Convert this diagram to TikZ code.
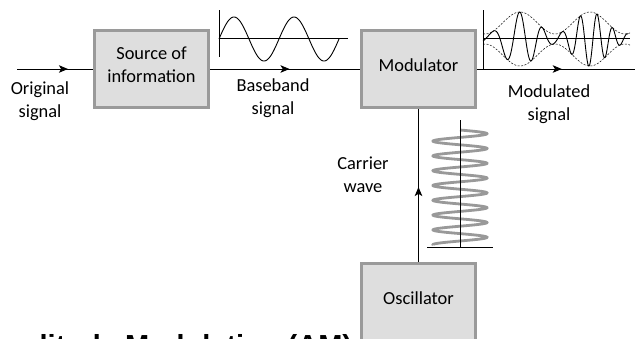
\documentclass[tikz,border=0pt]{standalone}
\usepackage{fontspec}
\setmainfont{Carlito}
\newfontfamily\titlefont{Liberation Sans}
\usetikzlibrary{arrows.meta,decorations.markings}
\definecolor{boxgray}{HTML}{9A9A9A}
\definecolor{boxfill}{HTML}{DEDEDE}
\definecolor{springgray}{HTML}{999999}
\newcommand\lblfont{\fontsize{18.4}{23}\selectfont}
\begin{document}
\begin{tikzpicture}[x=1pt,y=-1pt,
  block/.style={draw=boxgray, line width=3pt, fill=boxfill, minimum width=114pt,
    minimum height=77pt, inner sep=0pt, align=center, font=\lblfont, text depth=8pt},
  lbl/.style={align=center, font=\lblfont, inner sep=0pt},
  wire/.style={line width=0.9pt},
  axis/.style={line width=0.8pt},
  midarrow/.style={postaction={decorate}, decoration={markings,
    mark=at position #1 with {\arrow{Stealth[length=9pt,width=7.5pt,inset=2.2pt]}}}},
  envelope/.style={line width=0.5pt, dash pattern=on 2pt off 1.5pt},
  spring/.style={draw=springgray, line width=2.8pt}]
\useasboundingbox (0,0) rectangle (635,338);
\clip (0,0) rectangle (635,338);
\fill[white] (0,0) rectangle (635,338);

% blocks
\node[block] (src) at (151.5,69) {Source of\\information};
\node[block] (mod) at (418.5,69) {Modulator};
\node[block] (osc) at (418.5,302) {Oscillator};

% free ends
\coordinate (in) at (17,69);
\coordinate (out) at (640,69);

% connectors
\draw[wire, midarrow=0.67] (in) -- (src.west);
\draw[wire, midarrow=0.53] (src.east) -- (mod.west);
\draw[wire, midarrow=0.52] (mod.east) -- (out);
\draw[wire, midarrow=0.49] (osc.north) -- (mod.south);

% labels
\node[lbl] (orig) at (40,101.5) {Original\\signal};
\node[lbl] (base) at (273,98) {Baseband\\signal};
\node[lbl] (modl) at (549,104.5) {Modulated\\signal};
\node[lbl] (carr) at (363,175) {Carrier\\wave};

% baseband waveform
\draw[axis] (219,10) -- (219,57);
\draw[axis] (219,38) -- (348,38);
\draw[wire] plot[domain=219:339, samples=150, variable=\x] (\x,{39-22*sin(6*(\x-219))});

% modulated waveform
\draw[axis] (483,10) -- (483,69);
\draw[axis] (483,38.5) -- (630,38.5);
\draw[envelope] plot[domain=0:147, samples=150, variable=\u]
  ({483+\u},{39-(16-11*cos((\u-2)/70*360))});
\draw[envelope] plot[domain=0:147, samples=150, variable=\u]
  ({483+\u},{39+(16-11*cos((\u-2)/70*360))});
\draw[wire] plot[domain=0:145, samples=400, variable=\u]
  ({483+\u},{39-(16-11*cos((\u-2)/70*360))*sin(360*(0.031*\u+0.00013*\u*\u-0.07))});

% carrier spring
\draw[spring] plot[domain=130:245, samples=400, variable=\t]
  ({460+27*sin((\t-130)/14.8*360)},\t);
\draw[axis] (460,120) -- (460,247);
\draw[axis] (427,247) -- (493,247);

% cut-off title
\node[anchor=base west, inner sep=0pt, font=\titlefont\bfseries\fontsize{29}{34}\selectfont]
  (title) at (-25,355.5) {Amplitude Modulation (AM)};
\end{tikzpicture}
\end{document}
